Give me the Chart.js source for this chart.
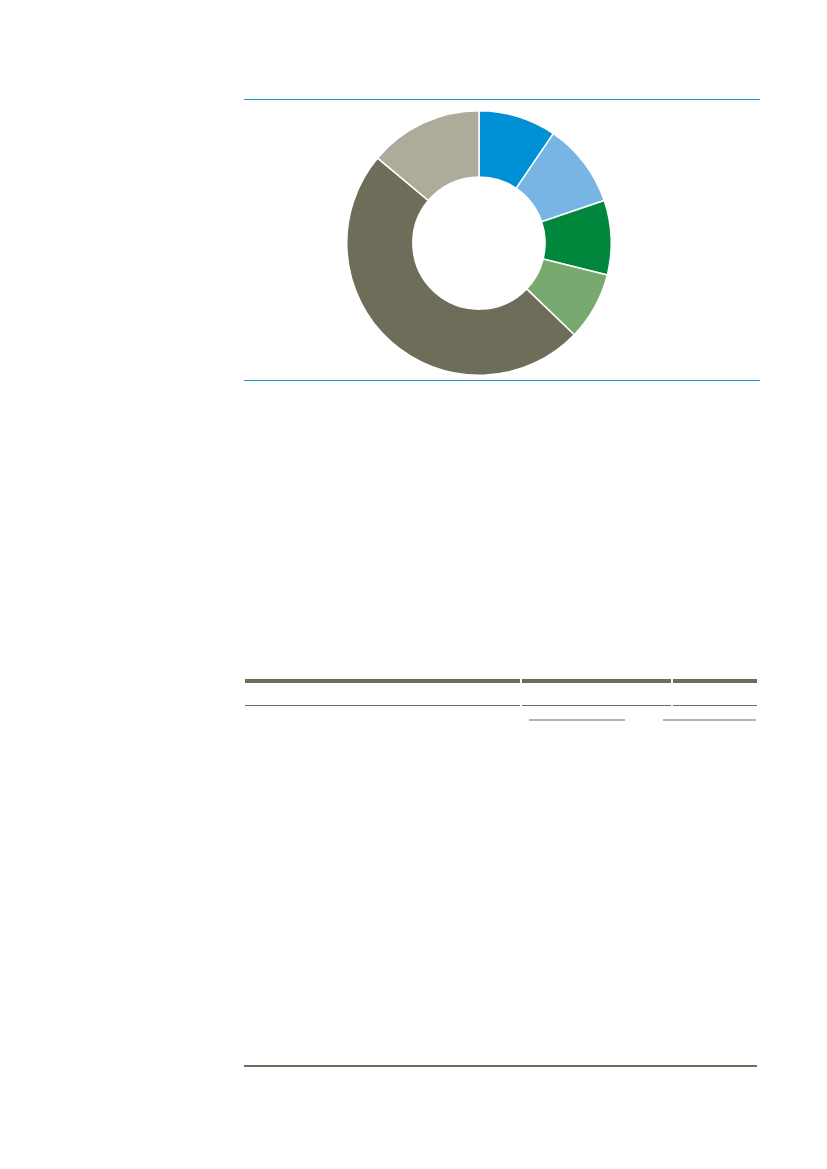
<!DOCTYPE html>
<html>
<head>
<meta charset="utf-8">
<script src="https://cdn.jsdelivr.net/npm/chart.js@4.4.0/dist/chart.umd.min.js"></script>
<style>
  html, body { margin: 0; padding: 0; background: #fff; }
  body { width: 827px; height: 1169px; position: relative; overflow: hidden; }
  .rule { position: absolute; }
  .blue { background: #1a93d3; height: 1px; left: 244px; width: 516px; }
  .olive { background: #6e6d5a; }
  .grey { background: #b5b3aa; height: 2px; }
  #donutWrap { position: absolute; left: 345.7px; top: 109.6px; width: 266px; height: 266px; }
</style>
</head>
<body>
<div class="rule blue" style="top:99px"></div>
<div id="donutWrap"><canvas id="donut" width="266" height="266"></canvas></div>
<div class="rule blue" style="top:380px"></div>

<!-- table rules -->
<div class="rule olive" style="top:679px; left:245px; width:275px; height:4px"></div>
<div class="rule olive" style="top:679px; left:522px; width:149px; height:4px"></div>
<div class="rule olive" style="top:679px; left:673px; width:84px; height:4px"></div>
<div class="rule olive" style="top:705px; left:245px; width:275px; height:1px"></div>
<div class="rule olive" style="top:705px; left:522px; width:149px; height:1px"></div>
<div class="rule olive" style="top:705px; left:673px; width:84px; height:1px"></div>
<div class="rule grey" style="top:719px; left:529px; width:96px"></div>
<div class="rule grey" style="top:719px; left:663px; width:93px"></div>
<div class="rule olive" style="top:1065px; left:244px; width:513px; height:2px"></div>

<script>
// segments, clockwise from 12 o'clock
const segments = ['Segment 1', 'Segment 2', 'Segment 3', 'Segment 4', 'Segment 5', 'Segment 6'];
const shares = [9.5, 10.3, 9.1, 8.3, 48.9, 13.9];
const colors = ['#0091d5', '#78b5e4', '#00873c', '#78aa70', '#6e6d5a', '#adab9a'];

new Chart(document.getElementById('donut').getContext('2d'), {
    type: 'doughnut',
    data: {
        labels: segments,
        datasets: [{
            data: shares,
            backgroundColor: colors,
            borderColor: '#ffffff',
            borderWidth: 1.5,
            hoverOffset: 0
        }]
    },
    options: {
        responsive: false,
        animation: false,
        cutout: '50%',
        layout: { padding: 0 },
        plugins: {
            legend: { display: false },
            tooltip: { enabled: false }
        }
    }
});
</script>
</body>
</html>
